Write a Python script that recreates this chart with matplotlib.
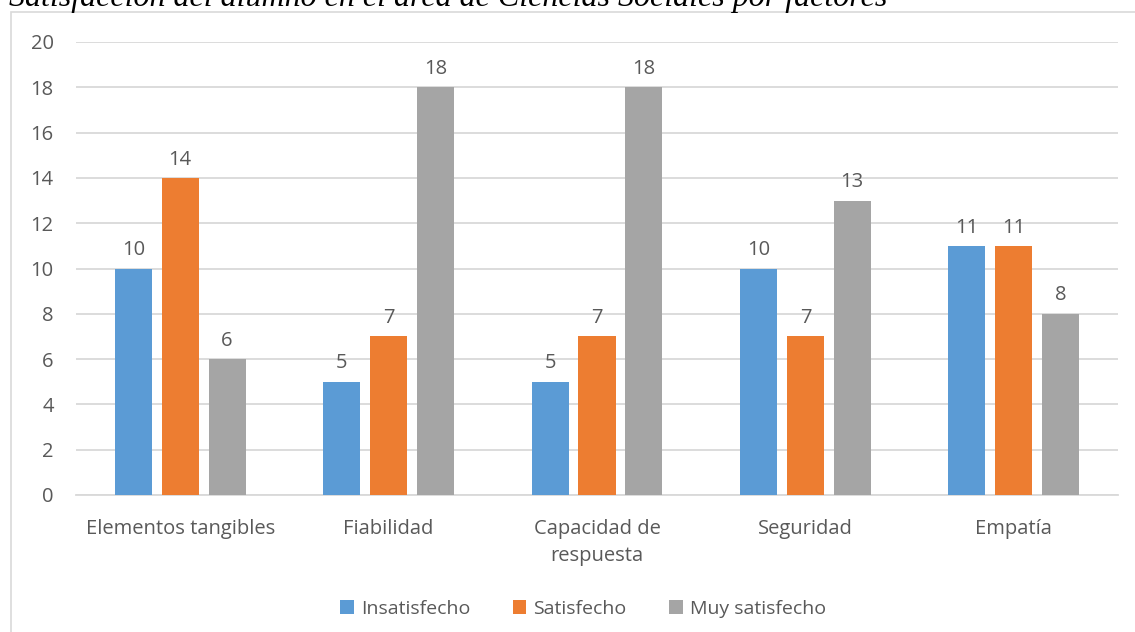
import numpy as np
import matplotlib.pyplot as plt
from matplotlib.patches import Rectangle

categories = ['Elementos tangibles', 'Fiabilidad', 'Capacidad de\nrespuesta', 'Seguridad', 'Empatía']
insatisfecho = [10, 5, 5, 10, 11]
satisfecho = [14, 7, 7, 7, 11]
muy_satisfecho = [6, 18, 18, 13, 8]
series_names = ['Insatisfecho', 'Satisfecho', 'Muy satisfecho']
colors = ['#5b9bd5', '#ed7d31', '#a5a5a5']
title = 'Satisfacción del alumno en el área de Ciencias Sociales por factores'

plt.rcParams['font.family'] = ['Open Sans', 'DejaVu Sans']
text_color = '#595959'

fig = plt.figure(figsize=(11.35, 6.32), dpi=100)
ax = fig.add_axes([76 / 1135, 1 - 495 / 632, (1118 - 76) / 1135, (495 - 42) / 632])

# chart frame
fig.patches.append(Rectangle((11 / 1135, -0.1), 1.2, 1 - 12 / 632 + 0.1,
                             transform=fig.transFigure, fill=False,
                             edgecolor='#d9d9d9', linewidth=1.2))

# title is cut by the top edge, as in the source image
fig.text(9 / 1135, 1 - 6 / 632, title, family='Liberation Serif', style='italic',
         fontsize=23, color='black', va='baseline', ha='left')

x = np.arange(len(categories))
width = 0.178
step = 0.225
all_series = [insatisfecho, satisfecho, muy_satisfecho]
for i, (vals, name, c) in enumerate(zip(all_series, series_names, colors)):
    bars = ax.bar(x + (i - 1) * step, vals, width, color=c, label=name, zorder=3)
    for b, v in zip(bars, vals):
        ax.annotate(str(v), (b.get_x() + b.get_width() / 2, v), xytext=(0, 6),
                    textcoords='offset points', ha='center', va='bottom',
                    fontsize=14.5, color=text_color)

ax.set_xlim(-0.5, len(categories) - 0.5)
ax.set_ylim(0, 20)
ax.set_yticks(range(0, 21, 2))
ax.set_xticks(x)
ax.set_xticklabels(categories, fontsize=14.5, color=text_color, linespacing=1.5)
ax.tick_params(axis='y', labelsize=14.5, labelcolor=text_color, length=0, pad=16)
ax.tick_params(axis='x', length=0, pad=17)
ax.grid(axis='y', color='#d9d9d9', linewidth=1.3, zorder=0)
for s in ['top', 'right', 'left']:
    ax.spines[s].set_visible(False)
ax.spines['bottom'].set_color('#d9d9d9')
ax.spines['bottom'].set_linewidth(1.3)

fig.legend(loc='center', bbox_to_anchor=(583 / 1135, 1 - 609 / 632), ncol=3, frameon=False,
           fontsize=14, labelcolor=text_color, handlelength=0.7, handleheight=0.7,
           handletextpad=0.35, columnspacing=2.2)

fig.savefig('out.png', dpi=100)
